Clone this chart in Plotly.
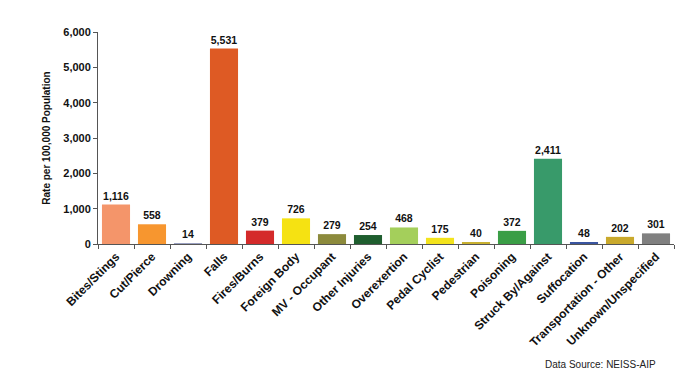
import plotly.graph_objects as go

categories = ["Bites/Stings", "Cut/Pierce", "Drowning", "Falls", "Fires/Burns", "Foreign Body",
              "MV - Occupant", "Other Injuries", "Overexertion", "Pedal Cyclist", "Pedestrian",
              "Poisoning", "Struck By/Against", "Suffocation", "Transportation - Other",
              "Unknown/Unspecified"]
values = [1116, 558, 14, 5531, 379, 726, 279, 254, 468, 175, 40, 372, 2411, 48, 202, 301]
colors = ["#F4956A", "#F7962F", "#9AA0C0", "#DE5A24", "#D42A2A", "#F5E212", "#8C8A3C", "#1F5E2F",
          "#A4CF5B", "#F3E31C", "#C8B030", "#3A9E46", "#389A6A", "#3A55A0", "#C9A92C", "#808080"]
y_ticks = [0, 1000, 2000, 3000, 4000, 5000, 6000]

fig = go.Figure(go.Bar(
    x=categories, y=values, marker=dict(color=colors, line=dict(width=0)),
    text=[f"{v:,}" for v in values], textposition="outside", cliponaxis=False,
    texttemplate="<b>%{text}</b>",
    textfont=dict(family="Liberation Sans, Arial", size=10.5, color="#111111"),
))
fig.update_layout(
    width=700, height=379, margin=dict(l=90, r=34, t=24, b=143),
    paper_bgcolor="white", plot_bgcolor="white", showlegend=False, bargap=0.22,
    font=dict(family="Liberation Sans, Arial", color="#111111"),
    annotations=[dict(text="Data Source: NEISS-AIP", xref="paper", yref="paper",
                      x=0.972, y=-0.57, xanchor="right", yanchor="middle", showarrow=False,
                      font=dict(size=10, color="#222222"))],
)
fig.update_xaxes(tickangle=-45, tickson="boundaries", ticks="outside", ticklen=4,
                 tickcolor="#555555", showline=True, linecolor="#555555", linewidth=1,
                 automargin=False,
                 tickfont=dict(size=12, family="Liberation Sans, Arial", weight="bold"))
fig.update_yaxes(range=[0, 6000], tickvals=y_ticks, tickformat=",", ticks="outside", ticklen=4,
                 tickcolor="#555555", showline=True, linecolor="#555555", linewidth=1,
                 showgrid=False, zeroline=False, automargin=False,
                 tickfont=dict(size=11, weight="bold"),
                 title=dict(text="<b>Rate per 100,000 Population</b>", font=dict(size=10), standoff=10))
fig.write_html("out.html")
